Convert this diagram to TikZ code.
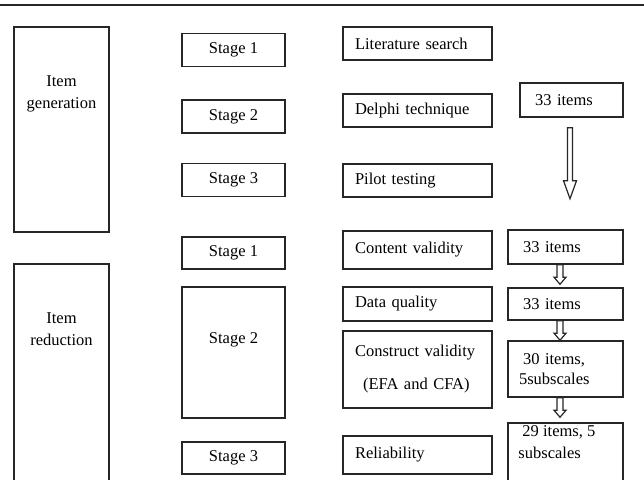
\documentclass[tikz,border=0pt]{standalone}
\usepackage{fontspec}
\setmainfont{Liberation Serif}
\usetikzlibrary{calc}

\tikzset{
  box/.style={draw=black!85, line width=1.5pt, inner sep=0pt, font=\fontsize{16.5}{20}\selectfont},
  headbox/.style={box, minimum width=95pt},
  stagebox/.style={box, minimum width=103pt, minimum height=33pt},
  stepbox/.style={box, text width=125pt, inner xsep=12pt, align=left, minimum height=33pt},
  countbox/.style={box, text width=85pt, inner xsep=15pt, align=left, minimum height=33pt},
  boxtext/.style={font=\fontsize{16.5}{22}\selectfont, align=left, inner sep=0pt},
  hollow/.style={draw=black!85, line width=1.2pt, fill=white},
}

% hollow block arrow: start, tip, shaft half width, head half width, head length
\newcommand{\hollowarrow}[5]{%
  \draw[hollow] ($(#1)+(-#3,0)$) -- ($(#2)+(-#3,-#5)$) -- ($(#2)+(-#4,-#5)$) -- (#2)
    -- ($(#2)+(#4,-#5)$) -- ($(#2)+(#3,-#5)$) -- ($(#1)+(#3,0)$) -- cycle;}

\begin{document}
\begin{tikzpicture}[x=1pt, y=-1pt]
            \useasboundingbox (0,0) rectangle (644,479);
            \clip (0,0) rectangle (644,479);
            \draw[line width=2.5pt, black!85] (0,5) -- (644,5);
            % item generation
            \node[headbox, minimum height=205pt] (gen) at (61.5,129.5) {};
            \node[boxtext, align=center] (gentext) at ($(gen.north)+(0,68)$) {Item\\generation};
            \node[stagebox] (gs1) at (233.5,50) {Stage 1};
            \node[stagebox] (gs2) at (233.5,116.5) {Stage 2};
            \node[stagebox] (gs3) at (233.5,180) {Stage 3};
            \node[stepbox] (lit) at (417.5,43.5) {Literature search};
            \node[stepbox] (del) at (417.5,110.5) {Delphi technique};
            \node[stepbox] (pil) at (417.5,180.5) {Pilot testing};
            \node[countbox, text width=73pt, minimum height=34pt] (c0) at (571.5,100) {33 items};
            % item reduction
            \node[headbox, minimum height=240pt] (red) at (61.5,384) {};
            \node[boxtext, align=center] (redtext) at ($(red.north)+(0,65.5)$) {Item\\reduction};
            \node[stagebox, minimum height=32pt] (rs1) at (233.5,253) {Stage 1};
            \node[stagebox, minimum height=131pt] (rs2) at (233.5,352.5) {};
            \node[boxtext] (rs2text) at ($(rs2.north)+(0,54)$) {Stage 2};
            \node[stagebox, minimum height=32pt] (rs3) at (233.5,458) {Stage 3};
            \node[stepbox, minimum height=38pt] (con) at (417.5,250) {Content validity};
            \node[stepbox, minimum height=34pt] (dat) at (417.5,304) {Data quality};
            \node[stepbox, minimum height=77pt] (cns) at (417.5,369.5) {Construct validity\\[13pt]\hspace*{8pt}(EFA and CFA)};
            \node[stepbox, minimum height=38pt] (rel) at (417.5,455) {Reliability};
            \node[countbox, minimum height=34pt] (c1) at (565.5,247) {33 items};
            \node[countbox, minimum height=32pt] (c2) at (565.5,304) {33 items};
            \node[countbox, text width=93pt, inner xsep=11pt, minimum height=56pt] (c3) at (565.5,369) {\hspace*{4pt}30 items,\\5subscales};
            \node[countbox, minimum height=77pt] (c4) at (565.5,461.5) {};
            \node[boxtext, anchor=base west] (c4text) at ($(c4.north west)+(11,36)$) {\hspace*{4pt}29 items, 5\\subscales};
            % Arrows
            \coordinate (b0) at ($(c0.south)+(-1.5,10)$);
            \coordinate (t0) at ($(c0.south)+(-1.5,81)$);
            \coordinate (b1) at ($(c1.south)+(-5.5,0)$);
            \coordinate (t1) at ($(c2.north)+(-5.5,-3)$);
            \coordinate (b2) at ($(c2.south)+(-5.5,0)$);
            \coordinate (t2) at ($(c3.north)+(-5.5,0)$);
            \coordinate (b3) at ($(c3.south)+(-5.5,0)$);
            \coordinate (t3) at ($(c4.north)+(-5.5,-5)$);
            \hollowarrow{b0}{t0}{2.5}{6.5}{18}
            \hollowarrow{b1}{t1}{3}{6}{7}
            \hollowarrow{b2}{t2}{3}{6}{7}
            \hollowarrow{b3}{t3}{3}{6}{7}
        \end{tikzpicture}
\end{document}
